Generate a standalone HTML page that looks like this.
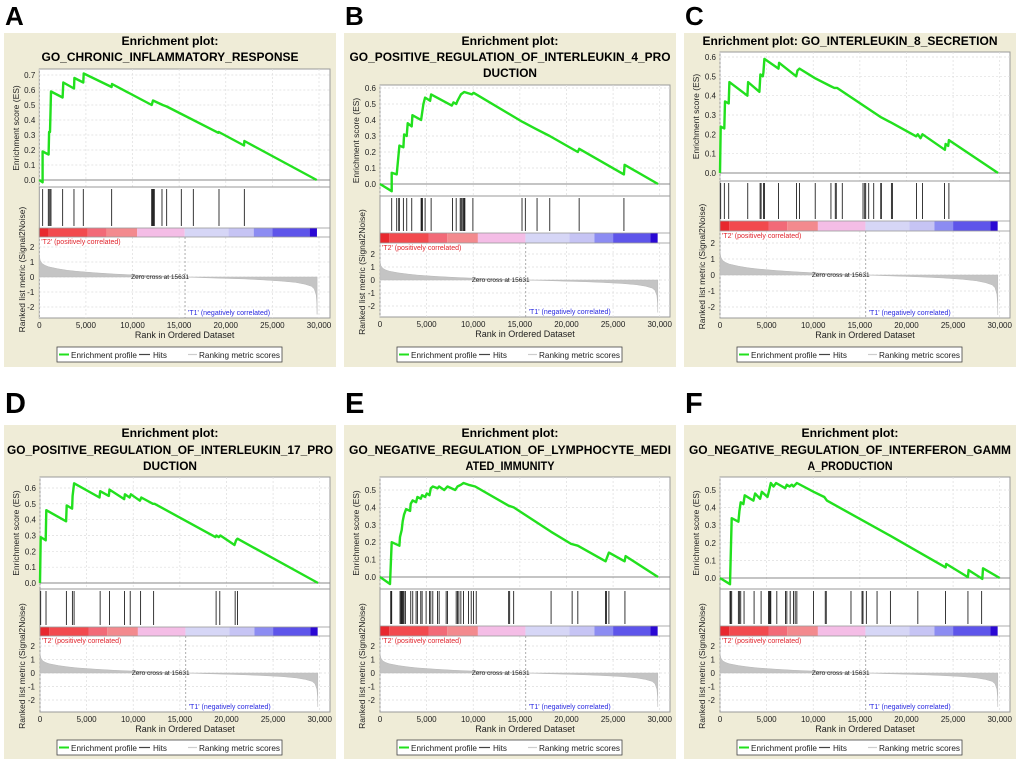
<!DOCTYPE html>
<html><head><meta charset="utf-8">
<style>
html,body{margin:0;padding:0;background:#fff;}
svg{display:block;font-family:"Liberation Sans",Arial,sans-serif;}
</style></head>
<body>
<svg id="fig" width="1020" height="761" viewBox="0 0 1020 761" xmlns="http://www.w3.org/2000/svg"></svg>
<script>
// ---------- DATA ----------
const xTicks = [0, 5000, 10000, 15000, 20000, 25000, 30000];
const xTickLabels = ["0", "5,000", "10,000", "15,000", "20,000", "25,000", "30,000"];
const zeroCross = 15631;
const rankedRanks = [0, 100, 300, 600, 1000, 2000, 3000, 4000, 6000, 8000, 10000, 12000, 14000, 15631, 18000, 20000, 22000, 24000, 26000, 27500, 28500, 29200, 29500, 29700, 29780, 29800];
const rankedVals = [1.45, 1.1, 0.9, 0.78, 0.68, 0.55, 0.45, 0.38, 0.28, 0.2, 0.14, 0.08, 0.04, 0, -0.05, -0.09, -0.13, -0.19, -0.27, -0.36, -0.48, -0.62, -0.8, -1.2, -1.8, -2.5];
const barStops = [0, 1000, 5200, 7200, 10500, 15600, 20300, 23000, 25000, 29000, 29780];

const esRanksA = [0,358,358,1000,1050,1150,1200,1252,2503,2575,3719,3760,4720,4760,7760,7800,12051,12200,13231,13660,19203,19250,21957,22000,29752];
const esValsA  = [0,-0.015,0.19,0.17,0.32,0.32,0.45,0.59,0.55,0.65,0.61,0.68,0.65,0.71,0.62,0.64,0.50,0.53,0.50,0.49,0.315,0.32,0.23,0.26,0];
const hitsA = [358,966,1073,1216,1252,2503,3719,4720,7760,12051,12122,12194,12265,12337,13159,13660,15233,16521,19274,21993];

const esRanksB = [0,1254,1254,1792,2079,2509,2580,2867,2975,3405,3476,4408,4659,4838,5376,5484,7706,7885,8172,8315,8673,9032,9856,10035,15232,16845,18207,21217,21361,26163,26235,29819];
const esValsB  = [0,-0.045,0.07,0.06,0.24,0.23,0.31,0.30,0.38,0.36,0.43,0.40,0.50,0.54,0.52,0.56,0.49,0.51,0.50,0.52,0.56,0.575,0.56,0.57,0.39,0.34,0.30,0.20,0.22,0.06,0.12,0];
const hitsB = [1254,1792,2007,2079,2509,2867,3405,4408,4480,4552,4838,5484,7777,8172,8602,8709,8817,8960,9032,9103,9964,15232,15590,16845,18207,21361,26163];

const esRanksC = [0,72,466,538,932,1004,2939,3011,4229,4337,4588,4659,4767,6272,6344,8172,8315,8530,10214,11827,12257,12544,15340,17203,18386,21038,21217,21504,21719,24120,24192,24479,24551,29819];
const esValsC  = [0,0.24,0.23,0.37,0.36,0.47,0.40,0.47,0.42,0.51,0.50,0.52,0.59,0.54,0.57,0.50,0.53,0.54,0.49,0.45,0.44,0.44,0.35,0.29,0.26,0.19,0.20,0.18,0.20,0.12,0.15,0.14,0.17,0];
const hitsC = [72,466,932,2975,4301,4408,4659,4767,6272,8207,8530,10214,11899,12365,12472,13117,15340,15519,15626,15949,16486,17239,17311,18386,18494,21074,21719,24085,24551];

const esRanksD = [0,72,609,681,2796,2867,3441,3500,3656,6380,6452,7383,7455,9032,9103,9605,9748,10716,10860,12114,12293,18816,18924,19174,19354,20859,21038,21181,29819];
const esValsD  = [0,0.29,0.27,0.46,0.39,0.49,0.47,0.55,0.63,0.54,0.58,0.55,0.59,0.53,0.56,0.54,0.56,0.52,0.54,0.50,0.50,0.29,0.30,0.29,0.30,0.24,0.27,0.28,0];
const hitsD = [72,645,2831,3476,3656,6451,7455,9068,9677,10788,12186,18889,19283,20932,21181];

const esRanksE = [0,1075,1254,2079,2150,2330,2437,2580,2795,3225,3297,3512,3871,4014,4372,4516,4838,5018,5304,5448,5663,6165,6344,6882,7240,8064,8315,8673,8960,9497,10214,13798,14336,18350,20501,21217,24192,24551,26235,26342,29819];
const esValsE  = [0,-0.04,0.20,0.18,0.23,0.27,0.32,0.36,0.39,0.38,0.42,0.44,0.43,0.46,0.45,0.47,0.46,0.48,0.47,0.51,0.52,0.51,0.52,0.50,0.52,0.50,0.52,0.53,0.54,0.53,0.52,0.41,0.40,0.26,0.19,0.18,0.09,0.14,0.09,0.12,0];
const hitsE = [1147,1219,1254,2150,2258,2330,2401,2473,2580,2724,3297,3512,3871,4014,4372,4516,4946,5304,5448,5663,6165,6344,7096,7240,8172,8315,8458,8673,8960,9497,9784,10035,10322,13798,13906,14336,18350,20608,21217,24192,24300,24551,26271];

const esRanksF = [0,1075,1254,1971,2079,2222,2509,2652,3584,3763,4301,4480,5090,5233,5448,5735,6022,6989,7168,7455,7706,7885,8243,10035,11182,11469,18279,21217,24192,24264,26593,26665,28135,28207,29998];
const esValsF  = [0,-0.035,0.34,0.32,0.38,0.43,0.42,0.47,0.44,0.48,0.45,0.49,0.46,0.49,0.54,0.52,0.54,0.51,0.53,0.52,0.53,0.52,0.54,0.49,0.46,0.44,0.24,0.15,0.06,0.08,0.005,0.045,-0.005,0.055,0];
const hitsF = [1075,1147,1254,1971,2079,2222,2580,3656,4408,5197,5304,5376,5448,6093,7025,7168,7526,7885,8064,8243,10035,11290,11397,14049,15232,15340,15698,16845,18279,21217,24192,26593,28062];

// ---------- STYLE / LAYOUT ----------
const barColors = ["#e8282e","#f24a4e","#f26a78","#f38a8e","#f4bde6","#d6d6f6","#c6c4f4","#8c8cf2","#5e55ea","#2a08d4"];
const panels = [
 {id:"a",letter:"A",lx:5,ly:25,lsize:26,bx:4,by:33,left:39.3,right:330,title:["Enrichment plot:","GO_CHRONIC_INFLAMMATORY_RESPONSE"],tw:[97,257],ty:[45,61],
  esTop:69,esBot:187,zeroY:180,topVal:0.7,topY:75,barTop:228,barBot:237,plotBot:318,r2Y:247,r0Y:277,legY:347,
  er:esRanksA,ev:esValsA,hits:hitsA},
 {id:"b",letter:"B",lx:345,ly:25,lsize:26,bx:344,by:33,left:380,right:670,title:["Enrichment plot:","GO_POSITIVE_REGULATION_OF_INTERLEUKIN_4_PRO","DUCTION"],tw:[97,321,54],ty:[45,61,77],
  esTop:85,esBot:196,zeroY:184,topVal:0.6,topY:88,barTop:233,barBot:243,plotBot:317,r2Y:254,r0Y:280,legY:347,
  er:esRanksB,ev:esValsB,hits:hitsB},
 {id:"c",letter:"C",lx:685,ly:25,lsize:26,bx:684,by:33,left:720,right:1010,title:["Enrichment plot: GO_INTERLEUKIN_8_SECRETION"],tw:[295],ty:[45],
  esTop:52,esBot:181,zeroY:173,topVal:0.6,topY:57,barTop:221,barBot:231,plotBot:318,r2Y:243,r0Y:275,legY:347,
  er:esRanksC,ev:esValsC,hits:hitsC},
 {id:"d",letter:"D",lx:5,ly:413,lsize:29,bx:4,by:425,left:40,right:330,title:["Enrichment plot:","GO_POSITIVE_REGULATION_OF_INTERLEUKIN_17_PRO","DUCTION"],tw:[97,326,54],ty:[437,454,470],
  esTop:477,esBot:589,zeroY:583,topVal:0.6,topY:488,barTop:627,barBot:636,plotBot:712,r2Y:646,r0Y:673,legY:740,
  er:esRanksD,ev:esValsD,hits:hitsD},
 {id:"e",letter:"E",lx:345,ly:413,lsize:29,bx:344,by:425,left:380,right:670,title:["Enrichment plot:","GO_NEGATIVE_REGULATION_OF_LYMPHOCYTE_MEDI","ATED_IMMUNITY"],tw:[97,322,89],ty:[437,454,470],
  esTop:477,esBot:589,zeroY:577,topVal:0.5,topY:490,barTop:626,barBot:636,plotBot:712,r2Y:646,r0Y:673,legY:740,
  er:esRanksE,ev:esValsE,hits:hitsE},
 {id:"f",letter:"F",lx:685,ly:413,lsize:29,bx:684,by:425,left:720,right:1010,title:["Enrichment plot:","GO_NEGATIVE_REGULATION_OF_INTERFERON_GAMM","A_PRODUCTION"],tw:[97,322,85],ty:[437,454,470],
  esTop:477,esBot:589,zeroY:578,topVal:0.5,topY:490,barTop:626,barBot:636,plotBot:712,r2Y:646,r0Y:673,legY:740,
  er:esRanksF,ev:esValsF,hits:hitsF}
];

const NS = "http://www.w3.org/2000/svg";
const svg = document.getElementById("fig");
function mk(tag, attrs, name, parent){
  const el = document.createElementNS(NS, tag);
  for (const k in attrs) el.setAttribute(k, attrs[k]);
  
  
  (parent||svg).appendChild(el);
  return el;
}
function txt(x,y,s,size,attrs,name,parent){
  const a = Object.assign({x:x,y:y,"font-size":size}, attrs||{});
  const el = mk("text", a, name, parent);
  el.textContent = s;
  return el;
}

panels.forEach(p => {
  const g = mk("g", {}, "panel-"+p.id);
  const xS = r => p.left + r*(279.7/30000);
  const yES = v => p.zeroY - v*(p.zeroY-p.topY)/p.topVal;
  const yR = v => p.r0Y - v*(p.r0Y-p.r2Y)/2;
  const cx = (p.left+p.right)/2;

  txt(p.lx, p.ly, p.letter, p.lsize, {"font-weight":"bold"}, "panel-label-"+p.id, g);
  mk("rect", {x:p.bx,y:p.by,width:332,height:334,fill:"#efecd7"}, "panel-background", g);
  p.title.forEach((t,i)=>{
    txt(p.bx+166, p.ty[i], t, 12, {"font-weight":"bold","text-anchor":"middle",textLength:p.tw[i],lengthAdjust:"spacingAndGlyphs"}, "plot-title-line", g);
  });

  mk("rect", {x:p.left,y:p.esTop,width:p.right-p.left,height:p.plotBot-p.esTop,fill:"#fff",stroke:"#9a9a9a","stroke-width":1}, "plot-area", g);
  xTicks.forEach(t=>{
    mk("line",{x1:xS(t),x2:xS(t),y1:p.esTop,y2:p.esBot,stroke:"#ddd","stroke-dasharray":"2,2","stroke-width":0.7},"es-grid-x",g);
    mk("line",{x1:xS(t),x2:xS(t),y1:p.barBot,y2:p.plotBot,stroke:"#ddd","stroke-dasharray":"2,2","stroke-width":0.7},"rank-grid-x",g);
  });
  for (let v=0; v<=p.topVal+1e-9; v+=0.1){
    const y=yES(v);
    mk("line",{x1:p.left,x2:p.right,y1:y,y2:y,stroke:v<1e-9?"#888":"#ddd","stroke-dasharray":v<1e-9?"":"2,2","stroke-width":v<1e-9?1:0.7},"es-grid-y",g);
    txt(p.left-4, y+3, v.toFixed(1), 8, {"text-anchor":"end",fill:"#222"}, "es-tick-label", g);
  }
  [2,1,0,-1,-2].forEach(v=>{
    mk("line",{x1:p.left,x2:p.right,y1:yR(v),y2:yR(v),stroke:"#ddd","stroke-dasharray":"2,2","stroke-width":0.7},"rank-grid-y",g);
    txt(p.left-5, yR(v)+3, String(v), 8, {"text-anchor":"end",fill:"#222"}, "rank-tick-label", g);
  });
  mk("line",{x1:p.left,x2:p.right,y1:p.esBot,y2:p.esBot,stroke:"#9a9a9a"},"es-separator",g);

  const pts = p.er.map((r,i)=>xS(r).toFixed(1)+","+yES(p.ev[i]).toFixed(1)).join(" ");
  mk("polyline",{points:pts,fill:"none",stroke:"#22e01e","stroke-width":2.4,"stroke-linejoin":"round"},"enrichment-profile-line",g);

  p.hits.forEach(h=>{
    mk("line",{x1:xS(h),x2:xS(h),y1:p.esBot+2,y2:p.barTop-2,stroke:"#222","stroke-width":0.9},"hit-line",g);
  });

  for (let i=0;i<barStops.length-1;i++){
    mk("rect",{x:xS(barStops[i]),y:p.barTop,width:xS(barStops[i+1])-xS(barStops[i]),height:p.barBot-p.barTop,fill:barColors[i]},"rank-color-bar-segment",g);
  }
  mk("rect",{x:p.left,y:p.barTop,width:p.right-p.left,height:p.barBot-p.barTop,fill:"none",stroke:"#9a9a9a","stroke-width":0.8},"rank-color-bar-frame",g);

  let ap = xS(0).toFixed(1)+","+yR(0).toFixed(1)+" ";
  ap += rankedRanks.map((r,i)=>xS(r).toFixed(1)+","+yR(rankedVals[i]).toFixed(1)).join(" ");
  ap += " "+xS(rankedRanks[rankedRanks.length-1]).toFixed(1)+","+yR(0).toFixed(1);
  mk("polygon",{points:ap,fill:"#c4c4c4",stroke:"#b8b8b8","stroke-width":0.5},"ranking-metric-area",g);
  mk("line",{x1:xS(zeroCross),x2:xS(zeroCross),y1:p.barBot,y2:p.plotBot,stroke:"#999","stroke-dasharray":"2,2","stroke-width":0.8},"zero-cross-line",g);
  txt(p.left+2, p.barBot+7, "'T2' (positively correlated)", 7, {fill:"#e0242c"}, "t2-label", g);
  txt(xS(zeroCross)-25, yR(0)+2, "Zero cross at 15631", 6.5, {"text-anchor":"middle",fill:"#222"}, "zero-cross-label", g);
  txt(xS(zeroCross)+3, p.plotBot-3, "'T1' (negatively correlated)", 7, {fill:"#2a2ae0"}, "t1-label", g);

  xTicks.forEach((t,i)=>{
    txt(xS(t), p.plotBot+10, xTickLabels[i], 8, {"text-anchor":"middle",fill:"#222"}, "x-tick-label", g);
  });
  txt(cx, p.plotBot+20, "Rank in Ordered Dataset", 9, {"text-anchor":"middle",fill:"#222"}, "x-axis-title", g);
  const esMid=(p.esTop+p.esBot)/2, rMid=(p.barBot+p.plotBot)/2-8;
  txt(p.bx+15, esMid, "Enrichment score (ES)", 8.5, {"text-anchor":"middle",fill:"#222",transform:`rotate(-90 ${p.bx+15} ${esMid})`}, "es-axis-title", g);
  txt(p.bx+21, rMid, "Ranked list metric (Signal2Noise)", 8.5, {"text-anchor":"middle",fill:"#222",transform:`rotate(-90 ${p.bx+21} ${rMid})`}, "rank-axis-title", g);

  const lx=p.bx+53, ly=p.legY;
  const lg = mk("g",{}, "legend", g);
  mk("rect",{x:lx,y:ly,width:225,height:15,fill:"#fff",stroke:"#444","stroke-width":0.8},"legend-box",lg);
  mk("line",{x1:lx+2,x2:lx+12,y1:ly+7.5,y2:ly+7.5,stroke:"#22e01e","stroke-width":2},"legend-enrichment-swatch",lg);
  txt(lx+14, ly+11, "Enrichment profile", 8.5, {fill:"#222",textLength:66,lengthAdjust:"spacingAndGlyphs"}, "legend-enrichment-entry", lg);
  mk("line",{x1:lx+82,x2:lx+93,y1:ly+7.5,y2:ly+7.5,stroke:"#444","stroke-width":1.2},"legend-hits-swatch",lg);
  txt(lx+96, ly+11, "Hits", 8.5, {fill:"#222",textLength:14,lengthAdjust:"spacingAndGlyphs"}, "legend-hits-entry", lg);
  mk("line",{x1:lx+131,x2:lx+140,y1:ly+7.5,y2:ly+7.5,stroke:"#ccc","stroke-width":1.2},"legend-ranking-swatch",lg);
  txt(lx+142, ly+11, "Ranking metric scores", 8.5, {fill:"#222",textLength:81,lengthAdjust:"spacingAndGlyphs"}, "legend-ranking-entry", lg);
});
</script>
</body></html>
